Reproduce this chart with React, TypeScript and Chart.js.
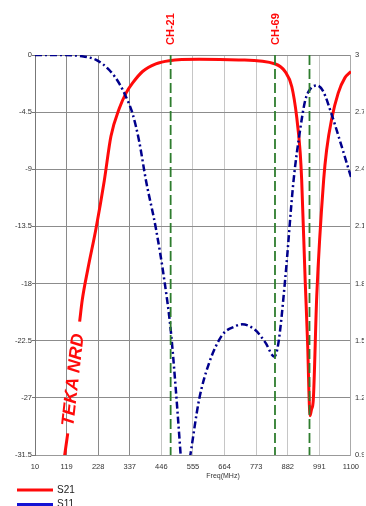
import { useEffect, useRef } from 'react';
import { Chart, registerables } from 'chart.js';

Chart.register(...registerables);

const freqTicks = [10, 119, 228, 337, 446, 555, 664, 773, 882, 991, 1100];
const dbTicks = [0, -4.5, -9, -13.5, -18, -22.5, -27, -31.5];
const vswrTicks = [0.9, 1.2, 1.5, 1.8, 2.1, 2.4, 2.7, 3];

const s21Freq = [105, 123, 143, 164, 173, 192, 221, 249, 272, 301, 324, 347, 381, 427, 473, 576, 713, 839, 873, 896, 913, 925, 930, 942, 951, 955, 959, 964, 970, 982, 1006, 1016, 1033, 1056, 1079, 1100];
const s21Db = [-32.7, -29.8, null, -21.0, -19.3, -16.9, -13.6, -9.9, -6.4, -4.2, -3.0, -2.2, -1.3, -0.7, -0.45, -0.34, -0.39, -0.71, -1.31, -2.5, -4.9, -7.7, -9.8, -17.7, -23.0, -26.5, -28.4, -27.9, -27.2, -19.0, -9.8, -7.5, -5.1, -3.0, -1.8, -1.3];

const s11Freq = [10, 100, 164, 221, 267, 301, 324, 347, 369, 393, 427, 456, 478, 496, 513, 523, 547, 576, 610, 656, 700, 724, 770, 805, 836, 850, 873, 902, 925, 942, 959, 982, 1004, 1033, 1062, 1100];
const s11Vswr = [3.0, 3.0, 2.995, 2.974, 2.92, 2.85, 2.78, 2.69, 2.55, 2.34, 2.09, 1.82, 1.56, 1.24, 0.89, 0.68, 0.91, 1.19, 1.38, 1.53, 1.575, 1.586, 1.556, 1.49, 1.416, 1.49, 1.82, 2.34, 2.61, 2.76, 2.82, 2.84, 2.81, 2.69, 2.55, 2.36];

const channelFreqs = [478, 838, 957];
const channelLabels = ['CH-21', 'CH-69', ''];

const seriesNames = ['S21', 'S11'];
const brandLabel = 'TEKA NRD';
const xTitle = 'Freq(MHz)';

const RED = '#ff0a0a';
const BLUE = '#00008c';
const GREEN = '#2e7d2e';
const FONT = "'Liberation Sans', Arial, sans-serif";

export default function App() {
  const ref = useRef<HTMLCanvasElement | null>(null);

  useEffect(() => {
    const canvas = ref.current;
    if (!canvas) return;

    const channelSets = channelFreqs.map((f) => ({
      label: 'ch' + f,
      data: [
        { x: f, y: dbTicks[0] },
        { x: f, y: dbTicks[dbTicks.length - 1] },
      ],
      yAxisID: 'y',
      borderColor: GREEN,
      borderWidth: 1.8,
      borderDash: [10, 4],
      pointRadius: 0,
      tension: 0,
      clip: 0,
    }));

    const overlay = {
      id: 'overlay',
      afterDatasetsDraw(chart: any) {
        const ctx = chart.ctx;
        const xs = chart.scales.x;
        const ys = chart.scales.y;
        ctx.save();
        // channel labels
        ctx.fillStyle = RED;
        ctx.font = `bold 11px ${FONT}`;
        ctx.textAlign = 'left';
        ctx.textBaseline = 'middle';
        channelFreqs.forEach((f, i) => {
          if (!channelLabels[i]) return;
          const px = xs.getPixelForValue(f);
          ctx.save();
          ctx.translate(px + 0.5, 45);
          ctx.rotate(-Math.PI / 2);
          ctx.fillText(channelLabels[i], 0, 0);
          ctx.restore();
        });
        // brand label along red line gap
        const bx = xs.getPixelForValue(143);
        const by = ys.getPixelForValue(-25.6);
        ctx.save();
        ctx.translate(bx, by);
        ctx.rotate((-83.5 * Math.PI) / 180);
        ctx.font = `italic bold 18px ${FONT}`;
        ctx.textAlign = 'center';
        ctx.textBaseline = 'middle';
        ctx.fillStyle = RED;
        ctx.fillText(brandLabel, 0, 0);
        ctx.restore();
        // x title
        ctx.fillStyle = '#333';
        ctx.font = `7px ${FONT}`;
        ctx.textAlign = 'center';
        ctx.textBaseline = 'middle';
        ctx.fillText(xTitle, 223, 476.5);
        // legend
        const items = [
          { name: seriesNames[0], color: RED, y: 490 },
          { name: seriesNames[1], color: '#1414d4', y: 504.5 },
        ];
        items.forEach((it) => {
          ctx.strokeStyle = it.color;
          ctx.lineWidth = 3;
          ctx.beginPath();
          ctx.moveTo(17, it.y);
          ctx.lineTo(53, it.y);
          ctx.stroke();
          ctx.fillStyle = '#222';
          ctx.font = `10px ${FONT}`;
          ctx.textAlign = 'left';
          ctx.textBaseline = 'middle';
          ctx.fillText(it.name, 57, it.y);
        });
        ctx.restore();
      },
    };

    const chart = new Chart(canvas, {
      type: 'line',
      data: {
        datasets: [
          ...channelSets,
          {
            label: seriesNames[1],
            data: s11Freq.map((x, i) => ({ x, y: s11Vswr[i] })),
            yAxisID: 'y1',
            borderColor: BLUE,
            borderWidth: 2.5,
            borderDash: [7, 3, 2, 3],
            pointRadius: 0,
            cubicInterpolationMode: 'monotone',
            clip: 0,
          },
          {
            label: seriesNames[0],
            data: s21Freq.map((x, i) => ({ x, y: s21Db[i] as any })),
            yAxisID: 'y',
            borderColor: RED,
            borderWidth: 3,
            pointRadius: 0,
            cubicInterpolationMode: 'monotone',
            spanGaps: false,
            clip: 0,
          },
        ] as any,
      },
      options: {
        animation: false,
        responsive: false,
        devicePixelRatio: 1,
        layout: { padding: { top: 55, left: 0, right: 0, bottom: 0 } },
        plugins: { legend: { display: false }, tooltip: { enabled: false }, title: { display: false } },
        scales: {
          x: {
            type: 'linear',
            min: freqTicks[0],
            max: freqTicks[freqTicks.length - 1],
            afterBuildTicks: (s: any) => {
              s.ticks = freqTicks.map((v) => ({ value: v }));
            },
            afterFit: (s: any) => {
              s.height = 51;
            },
            grid: {
              color: (c: any) => (c.index >= 1 && c.index <= 3 ? '#8a8a8a' : '#c6c6c6'),
              drawTicks: false,
              lineWidth: 1,
            },
            border: { display: true, color: '#999' },
            ticks: {
              padding: 7,
              maxRotation: 0,
              autoSkip: false,
              color: '#333',
              font: { family: FONT, size: 7.5 },
              callback: (v: any) => String(v),
            },
          },
          y: {
            type: 'linear',
            position: 'left',
            min: dbTicks[dbTicks.length - 1],
            max: dbTicks[0],
            afterBuildTicks: (s: any) => {
              s.ticks = dbTicks.slice().reverse().map((v) => ({ value: v }));
            },
            afterFit: (s: any) => {
              s.width = 35;
            },
            grid: { color: '#8c8c8c', tickColor: '#777', tickLength: 3, lineWidth: 1 },
            border: { display: true, color: '#777' },
            ticks: {
              padding: 0,
              color: '#333',
              font: { family: FONT, size: 7.5 },
              callback: (v: any) => String(v),
            },
          },
          y1: {
            type: 'linear',
            position: 'right',
            min: vswrTicks[0],
            max: vswrTicks[vswrTicks.length - 1],
            afterBuildTicks: (s: any) => {
              s.ticks = vswrTicks.map((v) => ({ value: v }));
            },
            afterFit: (s: any) => {
              s.width = 13;
            },
            grid: { drawOnChartArea: false, drawTicks: false },
            border: { display: true, color: '#aaa' },
            ticks: {
              padding: 4,
              color: '#333',
              font: { family: FONT, size: 7.5 },
              callback: (v: any) => String(Math.round(v * 10) / 10),
            },
          },
        },
      },
      plugins: [overlay],
    } as any);

    return () => chart.destroy();
  }, []);

  return (
    <div style={{ position: 'absolute', left: 0, top: 0, width: 366, height: 506, background: '#fff' }}>
      <canvas ref={ref} width={366} height={506} style={{ width: 366, height: 506, display: 'block' }} />
    </div>
  );
}
